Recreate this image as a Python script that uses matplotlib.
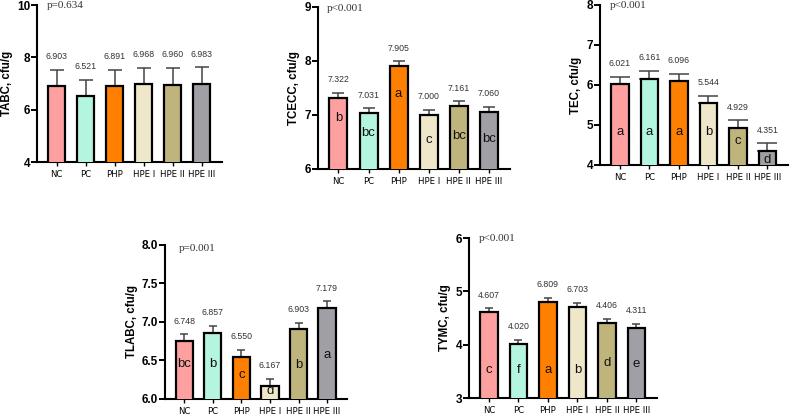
import numpy as np
import matplotlib
matplotlib.use("Agg")
import matplotlib.pyplot as plt
from matplotlib import font_manager
from matplotlib.font_manager import FontProperties

# Data
groups = ["NC", "PC", "PHP", "HPE I", "HPE II", "HPE III"]
colors = ["#FFA0A0", "#B3F5DF", "#FF8000", "#EEE7C9", "#BFB57C", "#A09FA5"]

tabc = [6.903, 6.521, 6.891, 6.968, 6.960, 6.983]
tabc_err = [0.63, 0.63, 0.63, 0.63, 0.63, 0.63]

tcecc = [7.322, 7.031, 7.905, 7.000, 7.161, 7.060]
tcecc_err = [0.09, 0.09, 0.09, 0.09, 0.09, 0.09]
tcecc_letters = ["b", "bc", "a", "c", "bc", "bc"]

tec = [6.021, 6.161, 6.096, 5.544, 4.929, 4.351]
tec_err = [0.19, 0.19, 0.19, 0.19, 0.19, 0.19]
tec_letters = ["a", "a", "a", "b", "c", "d"]

tlabc = [6.748, 6.857, 6.550, 6.167, 6.903, 7.179]
tlabc_err = [0.09, 0.09, 0.09, 0.09, 0.09, 0.09]
tlabc_letters = ["bc", "b", "c", "d", "b", "a"]

tymc = [4.607, 4.020, 4.809, 4.703, 4.406, 4.311]
tymc_err = [0.075, 0.075, 0.075, 0.075, 0.075, 0.075]
# labels as printed in the figure
tymc_text = ["4.607", "4.020", "6.809", "6.703", "4.406", "4.311"]
tymc_letters = ["c", "f", "a", "b", "d", "e"]

# where the letters sit inside the bars (y in data units)
tcecc_letter_y = [6.94, 6.67, 7.38, 6.54, 6.61, 6.55]
tec_letter_y = [4.83, 4.83, 4.83, 4.83, 4.61, 4.12]
tlabc_letter_y = [6.45, 6.45, 6.31, 6.11, 6.44, 6.57]
tymc_letter_y = [3.53, 3.53, 3.53, 3.53, 3.65, 3.63]

# look for a narrow font for the group names (Arial Narrow look)
narrow_file = None
for f in font_manager.fontManager.ttflist:
    st = str(f.stretch).lower()
    if ("narrow" in f.name.lower() or "condensed" in f.name.lower()
            or st in ("condensed", "semi-condensed", "375", "500")) \
            and f.style == "normal" and f.weight in (400, "normal", "regular"):
        if "semi" in f.fname.lower() or "extra" in f.fname.lower():
            continue
        narrow_file = f.fname
        break
if narrow_file:
    cat_font = FontProperties(fname=narrow_file, size=6.8)
else:
    cat_font = FontProperties(family="Liberation Sans", size=5.8)

fig = plt.figure(figsize=(7.91, 4.18), dpi=100)

panels = [
    # rect, values, err, texts, letters, letter_y, ylabel, ylim, yticks, fmt, pval, pxy, capsize
    ([0.0468, 0.6124, 0.2339, 0.3756], tabc, tabc_err, None, None, None,
     "TABC, cfu/g", (4, 10), [4, 6, 8, 10], "%d", "p=0.634", (-0.35, 10.0), 5.0),
    ([0.4020, 0.5957, 0.2427, 0.3876], tcecc, tcecc_err, None, tcecc_letters, tcecc_letter_y,
     "TCECC, cfu/g", (6, 9), [6, 7, 8, 9], "%d", "p<0.001", (-0.38, 8.97), 4.3),
    ([0.7585, 0.6053, 0.2377, 0.3828], tec, tec_err, None, tec_letters, tec_letter_y,
     "TEC, cfu/g", (4, 8), [4, 5, 6, 7, 8], "%d", "p<0.001", (-0.35, 7.98), 7.0),
    ([0.2086, 0.0455, 0.2301, 0.3684], tlabc, tlabc_err, None, tlabc_letters, tlabc_letter_y,
     "TLABC, cfu/g", (6, 8), [6.0, 6.5, 7.0, 7.5, 8.0], "%.1f", "p=0.001", (-0.2, 7.95), 3.0),
    ([0.5929, 0.0478, 0.2377, 0.3828], tymc, tymc_err, tymc_text, tymc_letters, tymc_letter_y,
     "TYMC, cfu/g", (3, 6), [3, 4, 5, 6], "%d", "p<0.001", (-0.35, 6.0), 3.0),
]

x = np.arange(len(groups))

for rect, vals, err, texts, letters, letter_y, ylabel, ylim, yticks, fmt, pval, pxy, cs in panels:
    ax = fig.add_axes(rect)
    ax.bar(x, vals, width=0.6, color=colors, edgecolor="black", linewidth=1.6, zorder=3)
    ax.errorbar(x, vals, yerr=[np.zeros(len(err)), err], fmt="none", ecolor="#444444",
                elinewidth=1.1, capsize=cs, capthick=1.1, zorder=2)
    ax.set_xlim(-0.68, 5.7)
    ax.set_ylim(*ylim)
    ax.set_yticks(yticks)
    ax.set_yticklabels([fmt % t for t in yticks], fontsize=8.5, fontweight="bold",
                       family="Liberation Sans")
    ax.set_xticks(x)
    ax.set_xticklabels(groups, fontproperties=cat_font)
    ax.tick_params(axis="y", length=4, width=1.4, pad=1)
    ax.tick_params(axis="x", length=3, width=1.0, pad=3)
    for s in ["top", "right"]:
        ax.spines[s].set_visible(False)
    for s in ["left", "bottom"]:
        ax.spines[s].set_linewidth(1.5)
    ax.set_ylabel(ylabel, fontsize=8.3, fontweight="bold", family="Liberation Sans", labelpad=3)
    ax.patch.set_alpha(0)

    if texts is None:
        texts = ["%.3f" % v for v in vals]
    for i in range(len(vals)):
        ax.annotate(texts[i], (x[i], vals[i] + err[i]), xytext=(0, 9.5),
                    textcoords="offset points", ha="center", va="center",
                    fontsize=6.3, color="#333333", family="Liberation Sans")
        if letters is not None:
            ax.text(x[i], letter_y[i], letters[i], ha="center", va="center",
                    fontsize=9.5, color="#111111", family="Liberation Sans", zorder=4)

    ax.text(pxy[0], pxy[1], pval, ha="left", va="center", fontsize=8,
            family="Liberation Serif", color="#333333")

fig.savefig("out.png", dpi=100)
